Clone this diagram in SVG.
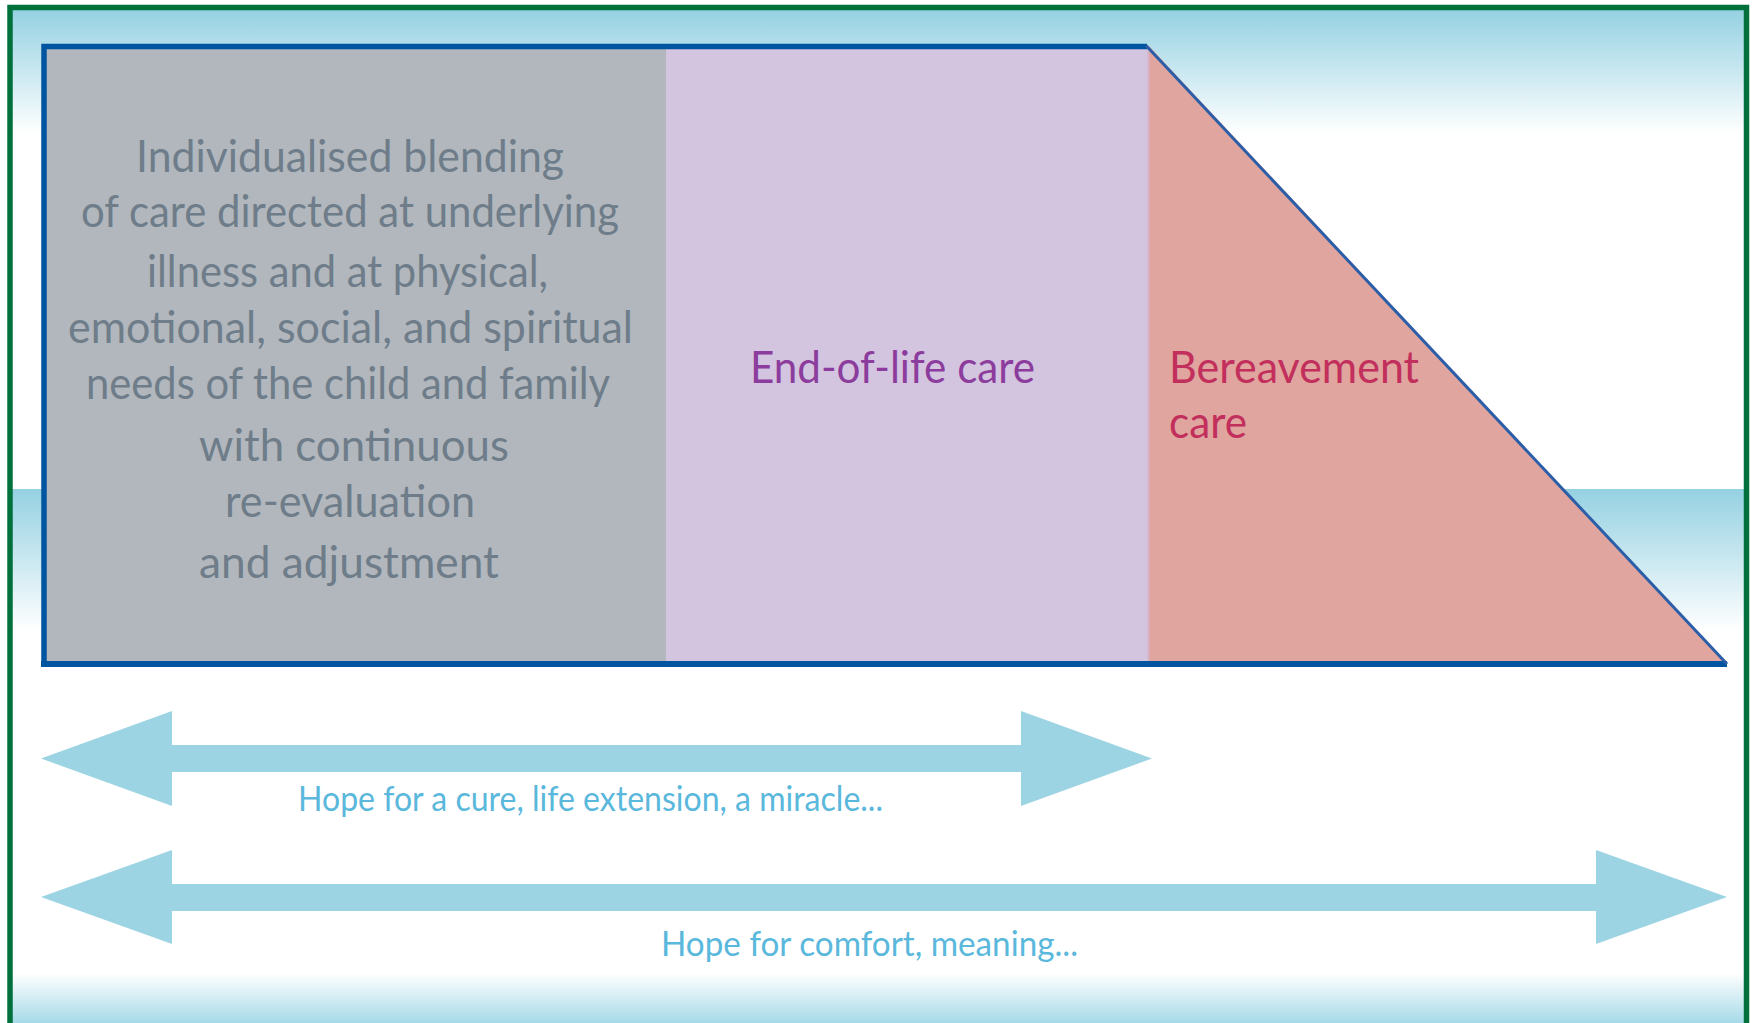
<svg xmlns="http://www.w3.org/2000/svg" width="1754" height="1023" viewBox="0 0 1754 1023">
  <defs>
    <linearGradient id="fadeDown" x1="0" y1="0" x2="0" y2="1">
      <stop offset="0" stop-color="#95d1e2"/>
      <stop offset="1" stop-color="#ffffff"/>
    </linearGradient>
    <linearGradient id="fadeUp" x1="0" y1="0" x2="0" y2="1">
      <stop offset="0" stop-color="#ffffff"/>
      <stop offset="1" stop-color="#a6dae8"/>
    </linearGradient>
    <style>
      .body { font-family: Lato, "Open Sans", "Liberation Sans", sans-serif; }
      .care { font-size: 44px; fill: #6e7d89; }
      .phase { font-size: 45px; }
      .hope { font-size: 34px; fill: #5ab8dc; }
      .band { fill: #9dd4e4; }
    </style>
  </defs>

  <!-- background -->
  <rect x="0" y="0" width="1754" height="1023" fill="#ffffff"/>
  <rect x="10" y="10" width="1736" height="124" fill="url(#fadeDown)"/>
  <rect x="10" y="489" width="1736" height="142" fill="url(#fadeDown)"/>
  <rect x="10" y="973" width="1736" height="50" fill="url(#fadeUp)"/>

  <!-- frame -->
  <path d="M10,1030 V7.5 H1746.5 V1030" fill="none" stroke="#00703c" stroke-width="5.5"/>

  <!-- care phases -->
  <g id="blended-care" class="body">
    <rect x="44" y="46" width="622" height="618" fill="#b1b7bd"/>
    <g class="care">
      <text x="136" y="172" textLength="428" lengthAdjust="spacingAndGlyphs">Individualised blending</text>
      <text x="81" y="227" textLength="538" lengthAdjust="spacingAndGlyphs">of care directed at underlying</text>
      <text x="147" y="287" textLength="401" lengthAdjust="spacingAndGlyphs">illness and at physical,</text>
      <text x="68" y="343" textLength="565" lengthAdjust="spacingAndGlyphs">emotional, social, and spiritual</text>
      <text x="86" y="399" textLength="524" lengthAdjust="spacingAndGlyphs">needs of the child and family</text>
      <text x="199" y="461" textLength="310" lengthAdjust="spacingAndGlyphs">with continuous</text>
      <text x="225" y="517" textLength="250" lengthAdjust="spacingAndGlyphs">re-evaluation</text>
      <text x="199" y="578" textLength="300" lengthAdjust="spacingAndGlyphs">and adjustment</text>
    </g>
  </g>

  <g id="end-of-life-care" class="body">
    <rect x="666" y="46" width="483" height="618" fill="#d3c4e0"/>
    <text class="phase" x="750" y="383" fill="#8c3c9c" textLength="285" lengthAdjust="spacingAndGlyphs">End-of-life care</text>
  </g>

  <g id="bereavement-care" class="body">
    <polygon points="1149,46 1727,664 1149,664" fill="#dfa59e"/>
    <line x1="1148.5" y1="46" x2="1148.5" y2="664" stroke="#d6b4c6" stroke-width="2"/>
    <g class="phase" fill="#c22f5c">
      <text x="1169" y="383" textLength="250" lengthAdjust="spacingAndGlyphs">Bereavement</text>
      <text x="1169" y="438" textLength="78" lengthAdjust="spacingAndGlyphs">care</text>
    </g>
  </g>

  <!-- outline of the care shape -->
  <g id="care-outline" fill="none" stroke="#0055a0">
    <path d="M44,664 V46.5 H1147" stroke-width="5.5"/>
    <path d="M41,664 H1727" stroke-width="6"/>
    <path d="M1146,45.5 L1727,664" stroke="#2c5ea8" stroke-width="3"/>
  </g>

  <!-- hope arrows -->
  <g id="connectors" class="body">
    <g id="hope-cure">
      <polygon class="band" points="41,758.5 172,711 172,745 1021,745 1021,711 1152,758.5 1021,806 1021,772 172,772 172,806"/>
      <text class="hope" x="298" y="811" textLength="585" lengthAdjust="spacingAndGlyphs">Hope for a cure, life extension, a miracle...</text>
    </g>
    <g id="hope-comfort">
      <polygon class="band" points="41,897 172,850 172,884 1596,884 1596,850 1727,897 1596,944 1596,911 172,911 172,944"/>
      <text class="hope" x="661" y="956" textLength="417" lengthAdjust="spacingAndGlyphs">Hope for comfort, meaning...</text>
    </g>
  </g>
</svg>
